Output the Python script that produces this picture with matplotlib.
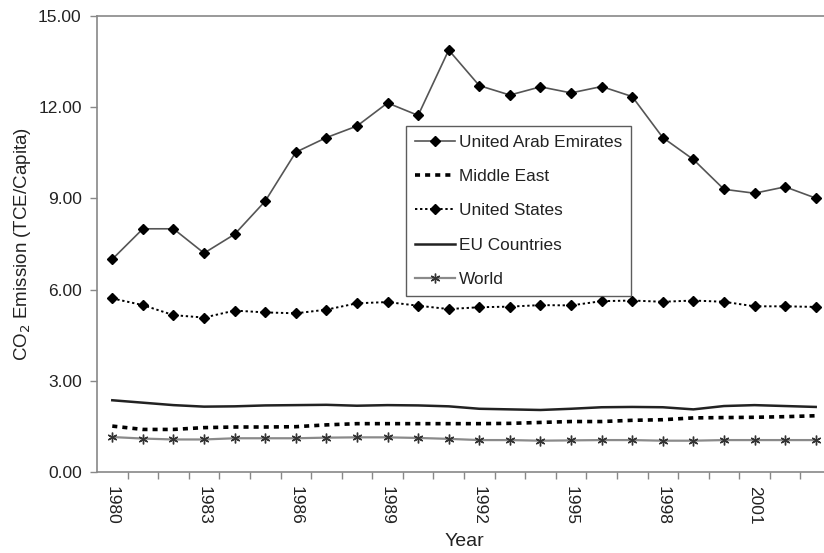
import matplotlib
matplotlib.use('agg')
import matplotlib.pyplot as plt
import numpy as np

plt.rcParams['font.family'] = ['Liberation Sans', 'DejaVu Sans']

years = list(range(1980, 2004))

uae = [7.00, 8.00, 8.00, 7.20, 7.82, 8.91, 10.52, 11.00, 11.38, 12.14, 11.73, 13.88,
       12.71, 12.40, 12.67, 12.47, 12.68, 12.35, 11.00, 10.28, 9.30, 9.17, 9.38, 9.01]
middle_east = [1.51, 1.40, 1.40, 1.46, 1.48, 1.48, 1.49, 1.55, 1.59, 1.59, 1.59, 1.59,
               1.59, 1.60, 1.63, 1.66, 1.66, 1.70, 1.72, 1.78, 1.79, 1.80, 1.82, 1.85]
usa = [5.71, 5.49, 5.16, 5.08, 5.31, 5.25, 5.22, 5.34, 5.55, 5.59, 5.47, 5.36,
       5.42, 5.44, 5.49, 5.48, 5.62, 5.64, 5.60, 5.64, 5.60, 5.45, 5.45, 5.43]
eu = [2.36, 2.28, 2.20, 2.15, 2.16, 2.19, 2.20, 2.21, 2.18, 2.20, 2.19, 2.16,
      2.08, 2.06, 2.04, 2.08, 2.13, 2.14, 2.13, 2.06, 2.17, 2.20, 2.17, 2.14]
world = [1.15, 1.10, 1.07, 1.07, 1.11, 1.11, 1.11, 1.13, 1.14, 1.14, 1.12, 1.09,
         1.05, 1.05, 1.03, 1.04, 1.05, 1.05, 1.03, 1.03, 1.05, 1.05, 1.05, 1.05]

yticks = [0, 3, 6, 9, 12, 15]
xlabels = [1980, 1983, 1986, 1989, 1992, 1995, 1998, 2001]

txt = '#222222'
axcol = '#888888'

fig = plt.figure(figsize=(8.24, 5.53), dpi=100)
# axes runs a little past the right edge of the canvas
ax = fig.add_axes([97 / 824, 81 / 553, 734 / 824, 456 / 553])

ax.plot(years, uae, color='#555555', lw=1.2, marker='D', ms=5,
        mfc='black', mec='black', label='United Arab Emirates', zorder=5)
ax.plot(years, middle_east, color='black', lw=2.6, linestyle=(0, (1.4, 1.4)),
        label='Middle East', zorder=4)
ax.plot(years, usa, color='black', lw=1.4, linestyle=(0, (1.2, 1.4)), marker='D',
        ms=5, mfc='black', mec='black', label='United States', zorder=4)
ax.plot(years, eu, color='#222222', lw=1.8, label='EU Countries', zorder=3)
ax.plot(years, world, color='#8a8a8a', lw=1.6, marker=(6, 2, 0), ms=7,
        mec='#333333', mew=1.0, label='World', zorder=3)

ax.set_xlim(1979.5, 2003.5)
ax.set_ylim(0, 15)

ax.set_yticks(yticks)
ax.set_yticklabels(['%.2f' % v for v in yticks])
ax.tick_params(axis='y', length=5, width=1, color=axcol, labelcolor=txt,
               labelsize=12.5, pad=6)

# tick marks sit between years, labels every third year
ax.set_xticks(np.arange(1980.5, 2003.5, 1.0))
ax.set_xticklabels([])
ax.set_xticks(xlabels, minor=True)
ax.set_xticklabels([str(y) for y in xlabels], minor=True, rotation=-90)
ax.tick_params(axis='x', which='major', length=5, width=1, color=axcol)
ax.tick_params(axis='x', which='minor', length=0, labelcolor=txt,
               labelsize=12.5, pad=10)

for side in ['left', 'bottom', 'top']:
    ax.spines[side].set_color(axcol)
    ax.spines[side].set_linewidth(1.2)
ax.spines['right'].set_visible(False)

ax.set_ylabel('CO$_2$ Emission (TCE/Capita)', fontsize=13.5, color=txt)
ax.yaxis.set_label_coords(-0.087, 0.5)
ax.set_xlabel('Year', fontsize=14, color=txt)
ax.xaxis.set_label_coords(0.5, -0.133)

leg = ax.legend(loc='upper left', bbox_to_anchor=(406 / 824, 1 - 126 / 553),
                bbox_transform=fig.transFigure, frameon=True, fancybox=False,
                fontsize=12.4, labelspacing=1.12, handlelength=2.35,
                handletextpad=0.25, borderpad=0.5, borderaxespad=0)
leg.get_frame().set_edgecolor('#333333')
leg.get_frame().set_linewidth(1.0)
for t in leg.get_texts():
    t.set_color(txt)

fig.savefig('out.png', dpi=100)
